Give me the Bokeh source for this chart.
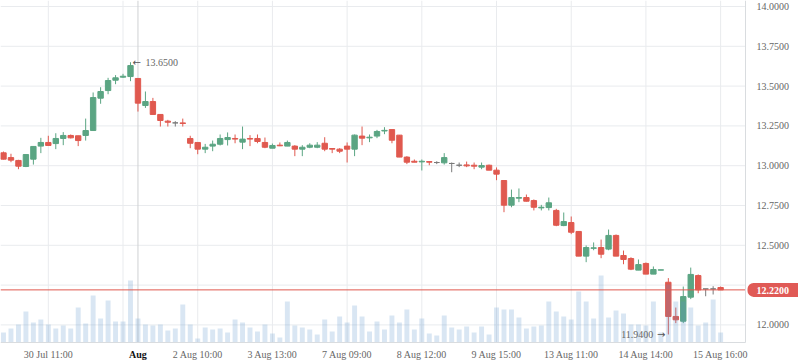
from bokeh.plotting import figure
from bokeh.models import Range1d, FixedTicker, PrintfTickFormatter, Label
from bokeh.core.properties import value
from bokeh.embed import file_html
from bokeh.resources import INLINE

# ---------------- data ----------------
opens = [13.081, 13.051, 13.033, 12.995, 13.041, 13.123, 13.146, 13.139, 13.171, 13.190,
         13.188, 13.190, 13.221, 13.424, 13.472, 13.537, 13.556, 13.560, 13.548, 13.378,
         13.403, 13.322, 13.280, 13.269, 13.269, 13.171, 13.146, 13.104, 13.123, 13.135,
         13.164, 13.171, 13.148, 13.171, 13.171, 13.146, 13.110, 13.129, 13.123, 13.123,
         13.104, 13.116, 13.116, 13.141, 13.108, 13.104, 13.123, 13.104, 13.186, 13.175,
         13.186, 13.218, 13.227, 13.192, 13.054, 13.028, 13.024, 13.026, 13.020, 13.018,
         13.014, 13.003, 13.005, 13.003, 12.991, 13.003, 12.972, 12.907, 12.752, 12.796,
         12.800, 12.781, 12.735, 12.737, 12.719, 12.624, 12.643, 12.587, 12.432, 12.481,
         12.486, 12.476, 12.562, 12.436, 12.417, 12.344, 12.386, 12.319, 12.344, 12.268,
         12.053, 12.023, 12.174, 12.310, 12.226, 12.226, 12.235]
highs = [13.089, 13.075, 13.037, 13.070, 13.121, 13.175, 13.188, 13.204, 13.211, 13.196,
         13.188, 13.296, 13.460, 13.493, 13.552, 13.569, 13.577, 13.650, 13.548, 13.466,
         13.426, 13.322, 13.288, 13.280, 13.296, 13.188, 13.146, 13.137, 13.158, 13.196,
         13.209, 13.196, 13.246, 13.192, 13.196, 13.177, 13.139, 13.146, 13.158, 13.129,
         13.129, 13.141, 13.148, 13.179, 13.108, 13.110, 13.146, 13.196, 13.246, 13.196,
         13.225, 13.242, 13.227, 13.192, 13.060, 13.039, 13.039, 13.026, 13.028, 13.079,
         13.020, 13.020, 13.026, 13.020, 13.020, 13.007, 12.989, 12.907, 12.850, 12.857,
         12.819, 12.788, 12.754, 12.800, 12.729, 12.706, 12.681, 12.587, 12.499, 12.518,
         12.536, 12.599, 12.568, 12.467, 12.425, 12.411, 12.392, 12.367, 12.346, 12.294,
         12.109, 12.241, 12.360, 12.317, 12.226, 12.243, 12.241]
lows = [13.039, 13.022, 12.978, 12.991, 13.007, 13.079, 13.127, 13.104, 13.129, 13.171,
        13.123, 13.158, 13.221, 13.389, 13.449, 13.512, 13.552, 13.531, 13.340, 13.363,
        13.322, 13.246, 13.246, 13.246, 13.246, 13.110, 13.072, 13.079, 13.091, 13.127,
        13.127, 13.141, 13.104, 13.123, 13.141, 13.110, 13.110, 13.123, 13.123, 13.060,
        13.060, 13.110, 13.110, 13.091, 13.079, 13.079, 13.020, 13.060, 13.129, 13.148,
        13.173, 13.198, 13.141, 13.054, 13.010, 13.022, 12.970, 13.003, 13.010, 13.007,
        12.959, 12.991, 12.991, 12.978, 12.978, 12.972, 12.909, 12.708, 12.739, 12.771,
        12.775, 12.719, 12.719, 12.719, 12.620, 12.620, 12.570, 12.432, 12.394, 12.469,
        12.419, 12.469, 12.432, 12.381, 12.344, 12.344, 12.319, 12.319, 12.344, 11.940,
        12.011, 12.011, 12.162, 12.199, 12.180, 12.191, 12.220]
closes = [13.041, 13.035, 12.997, 13.070, 13.121, 13.146, 13.127, 13.171, 13.190, 13.175,
          13.158, 13.221, 13.428, 13.466, 13.535, 13.552, 13.562, 13.629, 13.393, 13.403,
          13.322, 13.284, 13.273, 13.269, 13.265, 13.141, 13.104, 13.116, 13.135, 13.171,
          13.177, 13.167, 13.167, 13.167, 13.152, 13.116, 13.127, 13.125, 13.146, 13.104,
          13.116, 13.129, 13.129, 13.104, 13.104, 13.091, 13.104, 13.192, 13.173, 13.179,
          13.215, 13.222, 13.160, 13.054, 13.022, 13.022, 13.028, 13.022, 13.020, 13.051,
          13.014, 13.003, 12.999, 12.997, 13.001, 12.972, 12.947, 12.752, 12.800, 12.800,
          12.777, 12.739, 12.739, 12.767, 12.626, 12.649, 12.582, 12.432, 12.486, 12.484,
          12.444, 12.562, 12.432, 12.411, 12.350, 12.379, 12.319, 12.348, 12.346, 12.053,
          12.032, 12.178, 12.317, 12.220, 12.226, 12.226, 12.220]
volumes = [10, 14, 18, 31, 20, 23, 18, 14, 17, 14,
           35, 19, 47, 24, 42, 21, 21, 62, 24, 18,
           17, 18, 12, 14, 38, 18, 4, 15, 13, 14,
           10, 23, 20, 15, 11, 18, 9, 5, 41, 17,
           15, 13, 8, 23, 11, 26, 20, 37, 26, 11,
           21, 13, 27, 20, 33, 13, 24, 9, 7, 27,
           15, 13, 16, 10, 16, 8, 35, 33, 33, 25,
           14, 16, 17, 41, 31, 26, 23, 51, 41, 24,
           67, 25, 32, 29, 18, 18, 17, 41, 10, 58,
           41, 41, 35, 17, 20, 43, 10]

price_ticks = [12.0, 12.25, 12.5, 12.75, 13.0, 13.25, 13.5, 13.75, 14.0]
time_ticks = [6, 16, 26, 36, 46, 56, 66, 76, 86, 96]
time_labels = ["30 Jul 11:00", "", "2 Aug 10:00", "3 Aug 13:00", "7 Aug 09:00",
               "8 Aug 12:00", "9 Aug 15:00", "13 Aug 11:00", "14 Aug 14:00", "15 Aug 16:00"]
month_tick = 18
month_label = "Aug"

# ---------------- layout (pixels) ----------------
W, H = 798, 363
PLOT_W, PLOT_H = 745, 342          # chart area inside the canvas
PX_BAR = 7.47                      # pixels per bar
PX_UNIT = 159.2                    # pixels per price unit
X0 = -0.4016                       # bar index at left edge
Y_TOP = 14.0377                    # price at top edge

x_end = X0 + W / PX_BAR
y_start = Y_TOP - H / PX_UNIT
axis_x = X0 + PLOT_W / PX_BAR      # bar index where price axis sits
axis_y = Y_TOP - PLOT_H / PX_UNIT  # price where time axis sits

# ---------------- styling ----------------
UP = "#5ba583"
DOWN = "#e0594f"
TAG = "#e05a56"
FLAT = "#7a7a7a"
GRID = "#e9ebee"
AXIS = "#d9dcdf"
TXT = "#666666"
FONT = "Liberation Serif"
ARROW_FONT = "DejaVu Sans"

n = len(opens)
idx = list(range(n))
colors = [UP if c > o else (DOWN if c < o else FLAT) for o, c in zip(opens, closes)]
tops = [max(o, c) for o, c in zip(opens, closes)]
bots = [min(o, c) for o, c in zip(opens, closes)]

p = figure(width=W, height=H, output_backend="svg", toolbar_location=None,
           x_range=Range1d(X0, x_end), y_range=Range1d(y_start, Y_TOP),
           y_axis_location="right", x_axis_location="below")
p.min_border = 0
p.outline_line_color = None
p.background_fill_color = "white"
p.border_fill_color = "white"
p.xgrid.visible = False
p.ygrid.visible = False

# volume range: zero at the time axis
p.extra_y_ranges = {"vol": Range1d(-(H - PLOT_H), PLOT_H)}

# grid lines limited to the chart area
p.segment(x0=time_ticks, x1=time_ticks, y0=[axis_y] * len(time_ticks),
          y1=[Y_TOP] * len(time_ticks), line_color=GRID, line_width=1)
p.segment(x0=[X0] * len(price_ticks), x1=[axis_x] * len(price_ticks),
          y0=price_ticks, y1=price_ticks, line_color=GRID, line_width=1)
# month marker line
p.segment(x0=[month_tick], x1=[month_tick], y0=[axis_y], y1=[Y_TOP],
          line_color="#cfd1d4", line_width=1)

# axes placed at fixed locations
xa = p.xaxis[0]
xa.fixed_location = axis_y
xa.bounds = (X0, axis_x)
xa.ticker = FixedTicker(ticks=[t for t, l in zip(time_ticks, time_labels) if l])
xa.major_label_overrides = {t: l for t, l in zip(time_ticks, time_labels) if l}
ya = p.yaxis[0]
ya.fixed_location = axis_x
ya.bounds = (axis_y, Y_TOP)
ya.ticker = FixedTicker(ticks=price_ticks)
ya.formatter = PrintfTickFormatter(format="%.4f")
for ax in (xa, ya):
    ax.axis_line_color = AXIS
    ax.major_tick_line_color = None
    ax.minor_tick_line_color = None
    ax.major_tick_out = 0
    ax.major_tick_in = 0
    ax.major_label_text_font = FONT
    ax.major_label_text_font_size = "10px"
    ax.major_label_text_color = TXT
xa.major_label_standoff = 6
ya.major_label_standoff = 11

# candles
p.segment(x0=idx, y0=lows, x1=idx, y1=highs, line_color=colors, line_width=1)
p.vbar(x=idx, width=0.72, top=tops, bottom=bots, fill_color=colors,
       line_color=colors, line_width=1)

# volume
p.vbar(x=idx, width=0.66, top=volumes, bottom=0, y_range_name="vol",
       fill_color="#5b93cc", fill_alpha=0.23, line_color=None)

# last price line (ends where the price tag starts)
last_price = closes[-1]
p.segment(x0=[X0], x1=[axis_x], y0=[last_price], y1=[last_price],
          line_color=DOWN, line_width=1)

# high / low markers
imax = max(idx, key=lambda i: highs[i])
imin = min(idx, key=lambda i: lows[i])
p.text(x=[imax], y=[highs[imax]], text=["\u2190"],
       text_font=value(ARROW_FONT), text_font_size="10px", text_color="#555555",
       text_baseline="middle", text_align="left", x_offset=2)
p.text(x=[imax], y=[highs[imax]], text=["%.4f" % highs[imax]],
       text_font=value(FONT), text_font_size="10px", text_color=TXT,
       text_baseline="middle", text_align="left", x_offset=15)
p.text(x=[imin], y=[lows[imin]], text=["\u2192"],
       text_font=value(ARROW_FONT), text_font_size="10px", text_color="#555555",
       text_baseline="middle", text_align="right", x_offset=-3)
p.text(x=[imin], y=[lows[imin]], text=["%.4f" % lows[imin]],
       text_font=value(FONT), text_font_size="10px", text_color=TXT,
       text_baseline="middle", text_align="right", x_offset=-15)

# month label under axis
p.add_layout(Label(x=month_tick, y=axis_y - 12 / PX_UNIT, text=month_label,
                   text_font=FONT, text_font_size="10px", text_font_style="bold",
                   text_color="#111111", text_align="center", text_baseline="middle"))

# price tag on right
ya.major_label_overrides = {12.25: ""}
p.add_layout(Label(x=axis_x + 2 / PX_BAR, y=last_price,
                   text="%.4f" % last_price, text_font=FONT, text_font_size="10px",
                   text_font_style="bold",
                   text_color="white", text_align="left", text_baseline="middle",
                   background_fill_color=TAG,
                   padding=dict(left=9, right=12, top=4, bottom=3),
                   border_radius=dict(top_left=6, bottom_left=6, top_right=0, bottom_right=0)))

html = file_html(p, INLINE)
html = html.replace("<body>", '<body style="margin:0;overflow:hidden;">', 1)
open("out.html", "w").write(html)
